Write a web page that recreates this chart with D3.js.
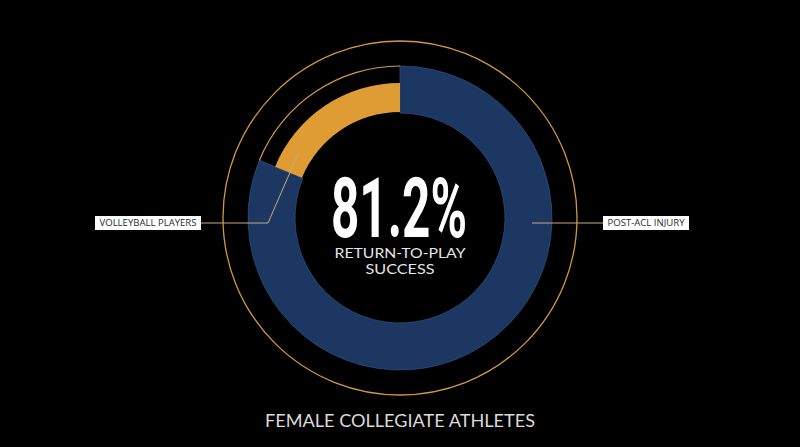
<!DOCTYPE html>
<html>
<head>
<meta charset="utf-8">
<script src="https://cdn.jsdelivr.net/npm/d3@7"></script>
<style>
  html, body { margin: 0; padding: 0; background: #000; }
  svg { display: block; }
</style>
</head>
<body>
<svg id="chart" width="800" height="447"></svg>
<script>
// ---- data ----
const categories = ["Post-ACL injury return", "Volleyball players not returning"];
const values = [81.2, 18.8];
const bigLabel = "81.2%";
const subLabels = ["RETURN-TO-PLAY", "SUCCESS"];
const calloutLabels = ["VOLLEYBALL PLAYERS", "POST-ACL INJURY"];
const title = "FEMALE COLLEGIATE ATHLETES";

// ---- layout ----
const W = 800, H = 447;
const cx = 400, cy = 218;
const svg = d3.select("#chart");
svg.append("rect").attr("width", W).attr("height", H).attr("fill", "#000");

const defs = svg.append("defs");
const grad = defs.append("radialGradient")
  .attr("id", "blueGrad").attr("gradientUnits", "userSpaceOnUse")
  .attr("cx", cx).attr("cy", cy).attr("r", 153);
grad.append("stop").attr("offset", "0.68").attr("stop-color", "#142a4e");
grad.append("stop").attr("offset", "0.86").attr("stop-color", "#224373");
grad.append("stop").attr("offset", "1").attr("stop-color", "#1b3762");

const g = svg.append("g").attr("transform", `translate(${cx},${cy})`);

const pie = d3.pie().sort(null).value(d => d)(values);

const rBlueIn = 105, rBlueOut = 152;
const rOrIn = 106, rOrOut = 135;
const rOuterRing = 177;

const arcBlue = d3.arc().innerRadius(rBlueIn).outerRadius(rBlueOut);
const arcOrange = d3.arc().innerRadius(rOrIn).outerRadius(rOrOut);

// outer thin ring
g.append("circle").attr("r", rOuterRing)
  .attr("fill", "none").attr("stroke", "#cf9744").attr("stroke-width", 1.3);

// blue segment
g.append("path").attr("d", arcBlue(pie[0]))
  .attr("fill", "url(#blueGrad)")
  .attr("stroke", "#2d4d7c").attr("stroke-width", 0.8);

// orange segment
g.append("path").attr("d", arcOrange(pie[1]))
  .attr("fill", "#df9c35");

// thin track outline over the orange segment
g.append("path")
  .attr("d", d3.arc()({innerRadius: rBlueOut - 0.6, outerRadius: rBlueOut + 0.6,
                       startAngle: pie[1].startAngle, endAngle: pie[1].endAngle}))
  .attr("fill", "#cf9a4e");

// ---- callouts ----
const lineColor = "#c9aa7a";
const labelDy = 5;
const oA = pie[1].startAngle + 0.15 * (pie[1].endAngle - pie[1].startAngle);
const pEnd = d3.pointRadial(oA, (rOrIn + rOrOut) / 2);
const elbowX = -132;
const leftBoxRight = -199;
g.append("path")
  .attr("d", d3.line()([[leftBoxRight, labelDy], [elbowX, labelDy], pEnd]))
  .attr("fill", "none").attr("stroke", lineColor).attr("stroke-width", 1);

const rightStart = 132, rightBoxLeft = 203;
g.append("path")
  .attr("d", d3.line()([[rightStart, labelDy], [rightBoxLeft, labelDy]]))
  .attr("fill", "none").attr("stroke", lineColor).attr("stroke-width", 1);

function labelBox(xLeft, width, textW, text) {
  g.append("rect").attr("x", xLeft).attr("y", labelDy - 7).attr("width", width).attr("height", 14)
    .attr("fill", "#fff");
  g.append("text").attr("x", xLeft + width / 2).attr("y", labelDy + 3.3)
    .attr("text-anchor", "middle")
    .attr("font-family", "'Open Sans', Lato, sans-serif").attr("font-size", 8.6)
    .attr("fill", "#2a2a2a")
    .attr("textLength", textW).attr("lengthAdjust", "spacingAndGlyphs")
    .text(text);
}
labelBox(-305, 106, 97, calloutLabels[0]);
labelBox(rightBoxLeft, 86, 77, calloutLabels[1]);

// ---- center text ----
g.append("text").attr("x", -1).attr("y", 19)
  .attr("text-anchor", "middle")
  .attr("font-family", "Roboto, 'Liberation Sans', sans-serif")
  .attr("font-weight", 700).attr("font-size", 84)
  .attr("fill", "#fff")
  .attr("textLength", 136).attr("lengthAdjust", "spacingAndGlyphs")
  .text(bigLabel);

g.append("text").attr("x", 0).attr("y", 40.3)
  .attr("text-anchor", "middle")
  .attr("font-family", "Lato, 'Open Sans', sans-serif").attr("font-size", 14)
  .attr("fill", "#e6e6e6")
  .attr("textLength", 131).attr("lengthAdjust", "spacingAndGlyphs")
  .text(subLabels[0]);
g.append("text").attr("x", 0).attr("y", 56)
  .attr("text-anchor", "middle")
  .attr("font-family", "Lato, 'Open Sans', sans-serif").attr("font-size", 14)
  .attr("fill", "#e6e6e6")
  .attr("textLength", 69).attr("lengthAdjust", "spacingAndGlyphs")
  .text(subLabels[1]);

// ---- title ----
svg.append("text").attr("x", 400).attr("y", 426.7)
  .attr("text-anchor", "middle")
  .attr("font-family", "Lato, 'Open Sans', sans-serif").attr("font-size", 16.5)
  .attr("fill", "#dadada")
  .attr("textLength", 270).attr("lengthAdjust", "spacingAndGlyphs")
  .text(title);
</script>
</body>
</html>
